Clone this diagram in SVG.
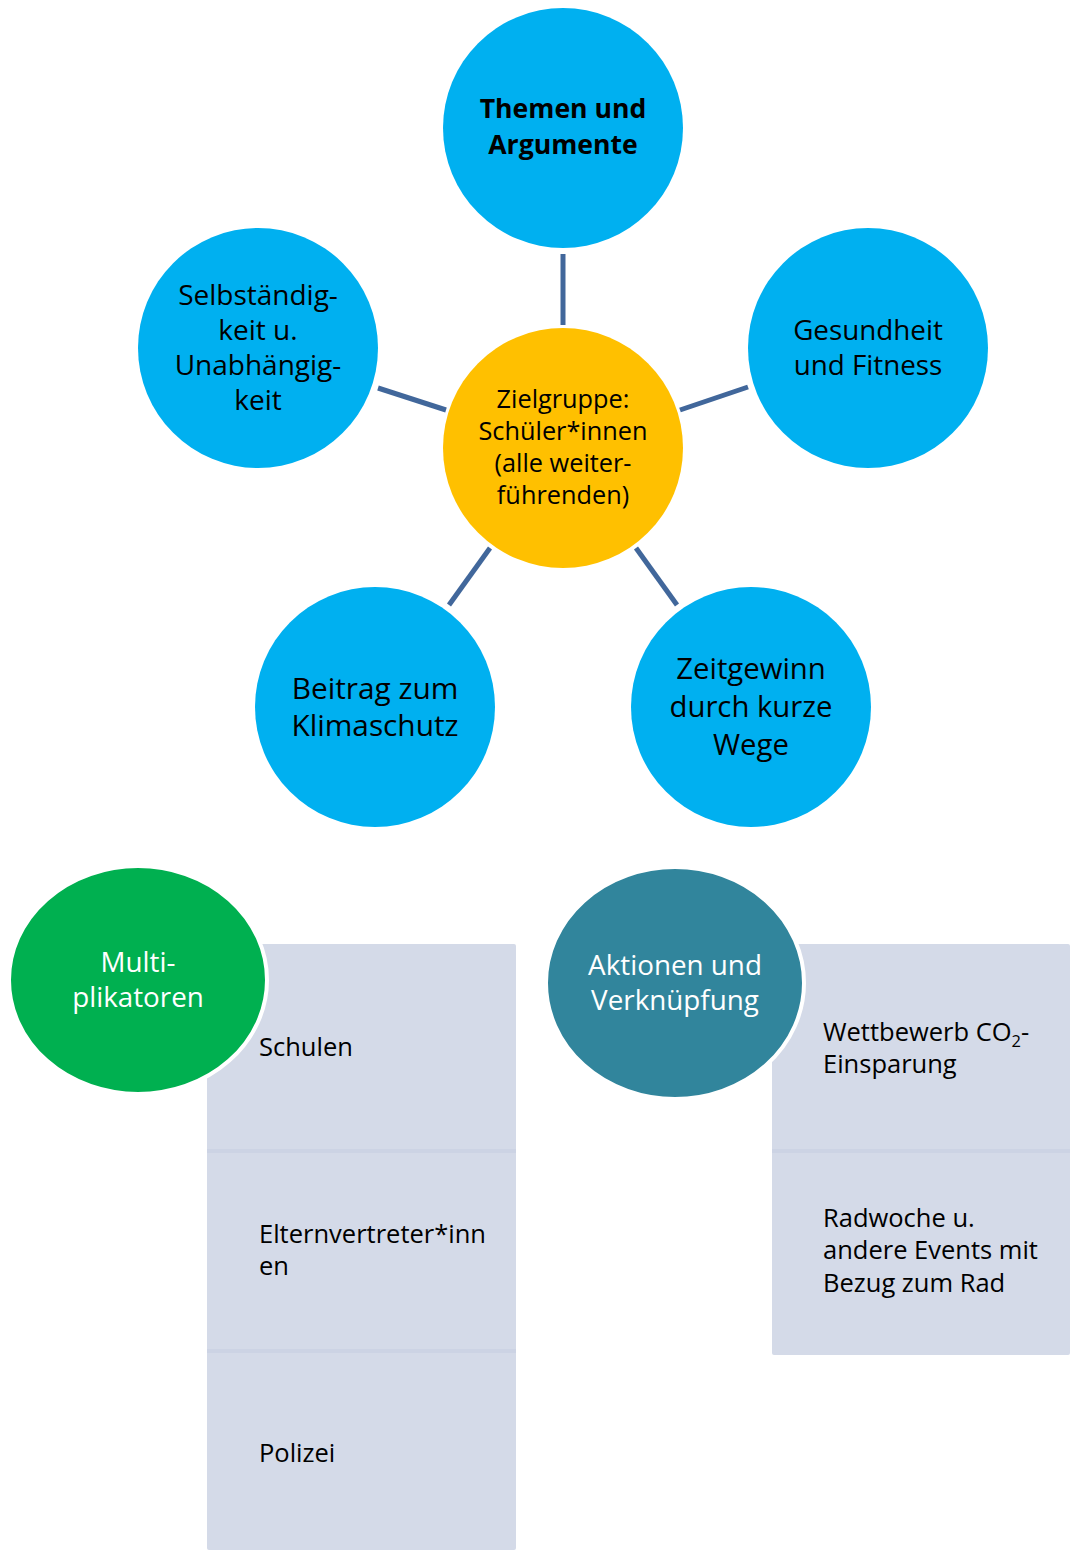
<svg xmlns="http://www.w3.org/2000/svg" width="1070" height="1550" viewBox="0 0 1070 1550">
<style>
.blue{fill:#00b0f0}
.t{font-family:"Open Sans",Lato,"Liberation Sans",sans-serif;fill:#000;text-anchor:middle}
.w{font-family:"Open Sans",Lato,"Liberation Sans",sans-serif;fill:#fff;text-anchor:middle}
.l{font-family:"Open Sans",Lato,"Liberation Sans",sans-serif;fill:#000;font-size:25.5px}
.box{fill:#d4dae8}
.sep{stroke:#ccd3e4;stroke-width:4}
.conn line{stroke:#41679b;stroke-width:5}
</style>
<rect width="1070" height="1550" fill="#fff"/>
<g class="conn" id="connectors">
<line x1="563" y1="254" x2="563" y2="325"/>
<line x1="378" y1="388" x2="446" y2="410"/>
<line x1="680" y1="410" x2="748" y2="387"/>
<line x1="490" y1="548" x2="449" y2="605"/>
<line x1="636" y1="548" x2="677" y2="605"/>
</g>
<g id="themen">
<circle class="blue" cx="563" cy="128" r="120"/>
<text class="t" font-size="26.6" font-weight="bold"><tspan x="563" y="118">Themen und</tspan><tspan x="563" y="154">Argumente</tspan></text>
</g>
<g id="selbst">
<circle class="blue" cx="258" cy="348" r="120"/>
<text class="t" font-size="28"><tspan x="258" y="305">Selbständig-</tspan><tspan x="258" y="340">keit u.</tspan><tspan x="258" y="375">Unabhängig-</tspan><tspan x="258" y="410">keit</tspan></text>
</g>
<g id="gesund">
<circle class="blue" cx="868" cy="348" r="120"/>
<text class="t" font-size="27.8"><tspan x="868" y="340">Gesundheit</tspan><tspan x="868" y="375">und Fitness</tspan></text>
</g>
<g id="zielgruppe">
<circle cx="563" cy="448" r="120" fill="#ffc000"/>
<text class="t" font-size="25.3"><tspan x="563" y="408">Zielgruppe:</tspan><tspan x="563" y="440">Schüler*innen</tspan><tspan x="563" y="472">(alle weiter-</tspan><tspan x="563" y="504">führenden)</tspan></text>
</g>
<g id="beitrag">
<circle class="blue" cx="375" cy="707" r="120"/>
<text class="t" font-size="29.8"><tspan x="375" y="699">Beitrag zum</tspan><tspan x="375" y="736">Klimaschutz</tspan></text>
</g>
<g id="zeit">
<circle class="blue" cx="751" cy="707" r="120"/>
<text class="t" font-size="29.3"><tspan x="751" y="679">Zeitgewinn</tspan><tspan x="751" y="717">durch kurze</tspan><tspan x="751" y="755">Wege</tspan></text>
</g>
<g id="multi-list">
<rect class="box" x="207" y="944" width="309" height="606" rx="2"/>
<line class="sep" x1="207" y1="1151" x2="516" y2="1151"/>
<line class="sep" x1="207" y1="1351" x2="516" y2="1351"/>
<text class="l" x="259" y="1056">Schulen</text>
<text class="l" font-size="26"><tspan x="259" y="1243">Elternvertreter*inn</tspan><tspan x="259" y="1275">en</tspan></text>
<text class="l" x="259" y="1462">Polizei</text>
</g>
<g id="multi">
<ellipse cx="138" cy="980" rx="129" ry="114" fill="#00b050" stroke="#fff" stroke-width="4"/>
<text class="w" font-size="27.8"><tspan x="138" y="972">Multi-</tspan><tspan x="138" y="1007">plikatoren</tspan></text>
</g>
<g id="aktionen-list">
<rect class="box" x="772" y="944" width="298" height="411" rx="2"/>
<line class="sep" x1="772" y1="1151" x2="1070" y2="1151"/>
<text class="l"><tspan x="823" y="1041">Wettbewerb CO</tspan><tspan font-size="16.5" dy="6">2</tspan><tspan dy="-6">-</tspan></text>
<text class="l" x="823" y="1073">Einsparung</text>
<text class="l"><tspan x="823" y="1227">Radwoche u.</tspan><tspan x="823" y="1259">andere Events mit</tspan><tspan x="823" y="1292">Bezug zum Rad</tspan></text>
</g>
<g id="aktionen">
<ellipse cx="675" cy="983" rx="129" ry="116" fill="#31859c" stroke="#fff" stroke-width="4"/>
<text class="w" font-size="27.8"><tspan x="675" y="975">Aktionen und</tspan><tspan x="675" y="1010">Verknüpfung</tspan></text>
</g>
</svg>
